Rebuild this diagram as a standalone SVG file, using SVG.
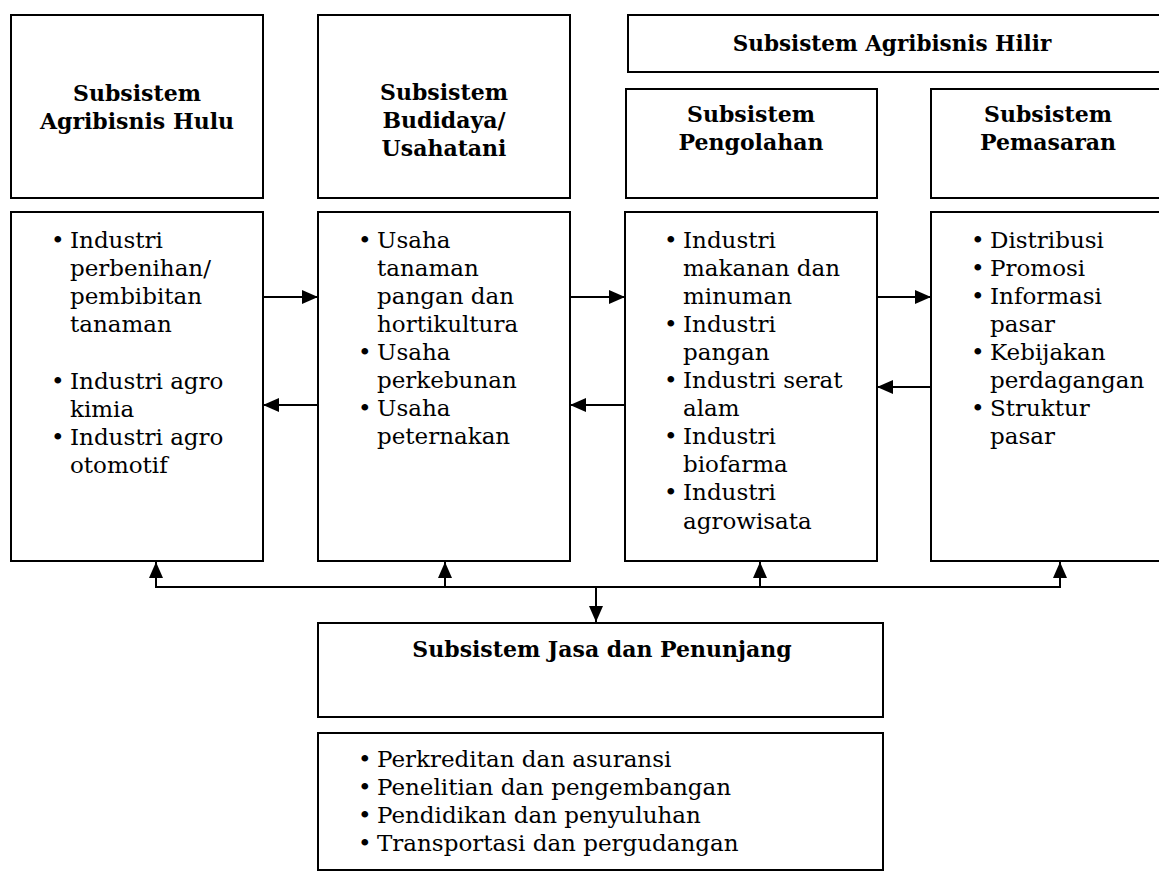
<svg xmlns="http://www.w3.org/2000/svg" width="1159" height="872" viewBox="0 0 1159 872">
<style>
.box{fill:#fff;stroke:#000;stroke-width:2}
.h{font-family:"DejaVu Serif","Liberation Serif",serif;font-weight:bold;font-size:22px;text-anchor:middle;fill:#000}
.t{font-family:"DejaVu Serif","Liberation Serif",serif;font-size:23px;fill:#000}
.c{fill:none;stroke:#000;stroke-width:2}
</style>
<defs>
<marker id="ah" markerUnits="userSpaceOnUse" markerWidth="16" markerHeight="14" refX="16" refY="7" orient="auto">
<path d="M0,0 L16,7 L0,14 z" fill="#000"/>
</marker>
</defs>
<rect width="1159" height="872" fill="#fff"/>

<g id="hulu-header">
<rect class="box" x="11" y="15" width="252" height="183"/>
<text class="h" x="137" y="101">Subsistem</text>
<text class="h" x="137" y="129">Agribisnis Hulu</text>
</g>
<g id="hulu-content">
<rect class="box" x="11" y="212" width="252" height="349"/>
<text class="t" x="51" y="248">•</text><text class="t" x="70" y="248">Industri</text>
<text class="t" x="70" y="276">perbenihan/</text>
<text class="t" x="70" y="304">pembibitan</text>
<text class="t" x="70" y="332">tanaman</text>
<text class="t" x="51" y="389">•</text><text class="t" x="70" y="389">Industri agro</text>
<text class="t" x="70" y="417">kimia</text>
<text class="t" x="51" y="445">•</text><text class="t" x="70" y="445">Industri agro</text>
<text class="t" x="70" y="473">otomotif</text>
</g>

<g id="budidaya-header">
<rect class="box" x="318" y="15" width="252" height="183"/>
<text class="h" x="444" y="100">Subsistem</text>
<text class="h" x="444" y="128">Budidaya/</text>
<text class="h" x="444" y="156">Usahatani</text>
</g>
<g id="budidaya-content">
<rect class="box" x="318" y="212" width="252" height="349"/>
<text class="t" x="358" y="248">•</text><text class="t" x="377" y="248">Usaha</text>
<text class="t" x="377" y="276">tanaman</text>
<text class="t" x="377" y="304">pangan dan</text>
<text class="t" x="377" y="332">hortikultura</text>
<text class="t" x="358" y="360">•</text><text class="t" x="377" y="360">Usaha</text>
<text class="t" x="377" y="388">perkebunan</text>
<text class="t" x="358" y="416">•</text><text class="t" x="377" y="416">Usaha</text>
<text class="t" x="377" y="444">peternakan</text>
</g>

<g id="hilir-header">
<rect class="box" x="628" y="15" width="545" height="57"/>
<text class="h" x="892" y="51" style="font-size:21.5px">Subsistem Agribisnis Hilir</text>
</g>

<g id="pengolahan-header">
<rect class="box" x="626" y="89" width="251" height="109"/>
<text class="h" x="751" y="122">Subsistem</text>
<text class="h" x="751" y="150">Pengolahan</text>
</g>
<g id="pengolahan-content">
<rect class="box" x="625" y="212" width="252" height="349"/>
<text class="t" x="664" y="248">•</text><text class="t" x="683" y="248">Industri</text>
<text class="t" x="683" y="276">makanan dan</text>
<text class="t" x="683" y="304">minuman</text>
<text class="t" x="664" y="332">•</text><text class="t" x="683" y="332">Industri</text>
<text class="t" x="683" y="360">pangan</text>
<text class="t" x="664" y="388">•</text><text class="t" x="683" y="388">Industri serat</text>
<text class="t" x="683" y="416">alam</text>
<text class="t" x="664" y="444">•</text><text class="t" x="683" y="444">Industri</text>
<text class="t" x="683" y="472">biofarma</text>
<text class="t" x="664" y="500">•</text><text class="t" x="683" y="500">Industri</text>
<text class="t" x="683" y="529">agrowisata</text>
</g>

<g id="pemasaran-header">
<rect class="box" x="931" y="89" width="240" height="109"/>
<text class="h" x="1048" y="122">Subsistem</text>
<text class="h" x="1048" y="150">Pemasaran</text>
</g>
<g id="pemasaran-content">
<rect class="box" x="931" y="212" width="240" height="349"/>
<text class="t" x="971" y="248">•</text><text class="t" x="990" y="248">Distribusi</text>
<text class="t" x="971" y="276">•</text><text class="t" x="990" y="276">Promosi</text>
<text class="t" x="971" y="304">•</text><text class="t" x="990" y="304">Informasi</text>
<text class="t" x="990" y="332">pasar</text>
<text class="t" x="971" y="360">•</text><text class="t" x="990" y="360">Kebijakan</text>
<text class="t" x="990" y="388">perdagangan</text>
<text class="t" x="971" y="416">•</text><text class="t" x="990" y="416">Struktur</text>
<text class="t" x="990" y="444">pasar</text>
</g>

<g id="jasa-header">
<rect class="box" x="318" y="623" width="565" height="94"/>
<text class="h" x="602" y="657">Subsistem Jasa dan Penunjang</text>
</g>
<g id="jasa-content">
<rect class="box" x="318" y="733" width="565" height="137"/>
<text class="t" x="358" y="767">•</text><text class="t" x="377" y="767">Perkreditan dan asuransi</text>
<text class="t" x="358" y="795">•</text><text class="t" x="377" y="795">Penelitian dan pengembangan</text>
<text class="t" x="358" y="823">•</text><text class="t" x="377" y="823">Pendidikan dan penyuluhan</text>
<text class="t" x="358" y="851">•</text><text class="t" x="377" y="851">Transportasi dan pergudangan</text>
</g>

<g id="connectors">
<line class="c" x1="263" y1="297" x2="318" y2="297" marker-end="url(#ah)"/>
<line class="c" x1="318" y1="405" x2="263" y2="405" marker-end="url(#ah)"/>
<line class="c" x1="570" y1="297" x2="625" y2="297" marker-end="url(#ah)"/>
<line class="c" x1="625" y1="405" x2="570" y2="405" marker-end="url(#ah)"/>
<line class="c" x1="877" y1="297" x2="931" y2="297" marker-end="url(#ah)"/>
<line class="c" x1="931" y1="387" x2="877" y2="387" marker-end="url(#ah)"/>
<line class="c" x1="155" y1="587" x2="1061" y2="587"/>
<line class="c" x1="156" y1="587" x2="156" y2="562" marker-end="url(#ah)"/>
<line class="c" x1="445" y1="587" x2="445" y2="562" marker-end="url(#ah)"/>
<line class="c" x1="760" y1="587" x2="760" y2="562" marker-end="url(#ah)"/>
<line class="c" x1="1060" y1="587" x2="1060" y2="562" marker-end="url(#ah)"/>
<line class="c" x1="596" y1="587" x2="596" y2="622" marker-end="url(#ah)"/>
</g>
</svg>
